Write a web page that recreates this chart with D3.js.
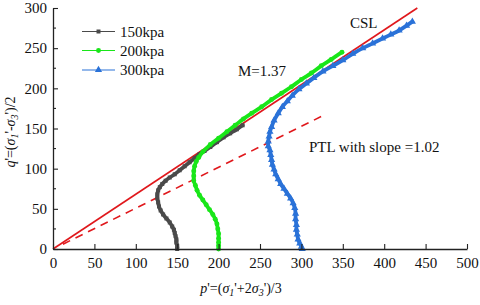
<!DOCTYPE html>
<html><head><meta charset="utf-8">
<script src="https://cdn.jsdelivr.net/npm/d3@7"></script>
<style>
html,body{margin:0;padding:0;background:#fff;}
svg{display:block;font-family:"Liberation Serif","Times New Roman",serif;}
</style></head>
<body>
<svg id="chart" width="480" height="305"></svg>
<script>
// ---- data ----
const xTicks = [0,50,100,150,200,250,300,350,400,450,500];
const yTicks = [0,50,100,150,200,250,300];
const seriesNames = ["150kpa","200kpa","300kpa"];

const p150 = [150,150,149,149,148,147,146,144,141,137,133,130,128,127,126,126,127,129,132,136,141,147,153,159,165,171,177,183,190,198,206,214,222,229];
const q150 = [0,4,8,12,16,20,24,28,33,38,43,48,53,58,63,68,73,77,81,85,89,93,98,103,108,113,118,122,127,133,139,144,149,154];

const p200 = [200,200,200,200,200,199,198,196,193,189,185,181,177,174,172,170,170,170,171,173,176,181,190,200,210,220,230,240,252,264,276,288,300,312,324,336,349];
const q200 = [0,4,8,13,19,25,31,37,43,49,55,61,67,73,79,85,91,97,103,109,114,121,130,138,146,154,162,169,177,186,194,202,211,219,228,236,245];

const p300 = [301,300,298,296,295,294,294,293,293,292,290,287,283,279,275,272,269,267,265,264,263,262,260,260,261,262,264,267,272,277,283,289,297,306,315,326,338,350,362,374,386,398,408,418,427,434];
const q300 = [0,3,7,12,18,24,30,37,44,51,57,63,69,75,81,87,93,99,105,111,117,123,128,134,140,146,152,160,169,177,184,191,199,206,213,221,228,235,243,250,256,262,267,272,278,283];

const cslP = [0,440];
const cslQ = [0,300];
const ptlP = [12,328];
const ptlQ = [6,167];

// ---- layout ----
const svg = d3.select("#chart");
const L=53, R=467, T=8, B=249;
const x = d3.scaleLinear().domain([0,500]).range([L,R]);
const y = d3.scaleLinear().domain([0,300]).range([B,T]);
const colors = ["#4a4a4a","#19e619","#2a72d8"];
const red = "#e0181c";
const axisColor = "#222";

const series = [
  {name:seriesNames[0], p:p150, q:q150, color:colors[0], shape:d3.symbolSquare, size:10},
  {name:seriesNames[1], p:p200, q:q200, color:colors[1], shape:d3.symbolCircle, size:12},
  {name:seriesNames[2], p:p300, q:q300, color:colors[2], shape:d3.symbolTriangle, size:14}
];

const straight = d3.line().x(d=>x(d[0])).y(d=>y(d[1]));

// CSL
svg.append("path").attr("d", straight(d3.zip(cslP,cslQ)))
  .attr("fill","none").attr("stroke",red).attr("stroke-width",1.6);
// PTL
svg.append("path").attr("d", straight(d3.zip(ptlP,ptlQ)))
  .attr("fill","none").attr("stroke",red).attr("stroke-width",1.6).attr("stroke-dasharray","8,6");

// series
series.forEach(s=>{
  const pts = d3.zip(s.p,s.q);
  svg.append("path").attr("d", d3.line().x(d=>x(d[0])).y(d=>y(d[1])).curve(d3.curveCatmullRom)(pts))
    .attr("fill","none").attr("stroke",s.color).attr("stroke-width",3.8).attr("stroke-linejoin","round").attr("stroke-linecap","round");
  svg.append("g").selectAll("path").data(pts).join("path")
    .attr("transform",d=>`translate(${x(d[0])},${y(d[1])})`)
    .attr("d", d3.symbol().type(s.shape).size(s.size*1.6))
    .attr("fill",s.color);
});

// axes
const xAxis = d3.axisBottom(x).tickValues(xTicks).tickSizeInner(-5).tickSizeOuter(0).tickPadding(8);
const gx = svg.append("g").attr("transform",`translate(0,${B})`).call(xAxis);
const yMinor = d3.range(25,300,50);
const yAxis = d3.axisLeft(y).tickValues(yTicks).tickSizeInner(-5).tickSizeOuter(0).tickPadding(6);
const gy = svg.append("g").attr("transform",`translate(${L},0)`).call(yAxis);
svg.append("g").selectAll("line").data(yMinor).join("line")
  .attr("x1",L).attr("x2",L+3).attr("y1",d=>y(d)).attr("y2",d=>y(d))
  .attr("stroke",axisColor).attr("stroke-width",1.1);
[gx,gy].forEach(g=>{
  g.select(".domain").attr("stroke",axisColor).attr("stroke-width",1.3);
  g.selectAll(".tick line").attr("stroke",axisColor).attr("stroke-width",1.1);
  g.selectAll(".tick text").attr("font-family","Liberation Serif, serif").attr("font-size",15).attr("fill","#111");
});

// axis titles
const xt = svg.append("text").attr("x",241).attr("y",293).attr("text-anchor","middle")
  .attr("font-size",14).attr("fill","#111");
xt.append("tspan").attr("font-style","italic").text("p");
xt.append("tspan").text("'=(");
xt.append("tspan").attr("font-style","italic").text("σ");
xt.append("tspan").attr("font-style","italic").attr("font-size",10).attr("dy",3).text("1");
xt.append("tspan").attr("dy",-3).text("'+2");
xt.append("tspan").attr("font-style","italic").text("σ");
xt.append("tspan").attr("font-style","italic").attr("font-size",10).attr("dy",3).text("3");
xt.append("tspan").attr("dy",-3).text("')/3");

const yt = svg.append("text").attr("transform","translate(15,132) rotate(-90)").attr("text-anchor","middle")
  .attr("font-size",14).attr("fill","#111");
yt.append("tspan").attr("font-style","italic").text("q");
yt.append("tspan").text("'=(");
yt.append("tspan").attr("font-style","italic").text("σ");
yt.append("tspan").attr("font-style","italic").attr("font-size",10).attr("dy",3).text("1");
yt.append("tspan").attr("dy",-3).text("'-");
yt.append("tspan").attr("font-style","italic").text("σ");
yt.append("tspan").attr("font-style","italic").attr("font-size",10).attr("dy",3).text("3");
yt.append("tspan").attr("dy",-3).text("')/2");

// annotations
svg.append("text").attr("x",350).attr("y",28).attr("font-size",15).attr("fill","#111").text("CSL");
svg.append("text").attr("x",238).attr("y",76).attr("font-size",15).attr("fill","#111").text("M=1.37");
svg.append("text").attr("x",309).attr("y",152).attr("font-size",15).attr("fill","#111").text("PTL with slope =1.02");

// legend
const legY = [31.5,50.5,70];
series.forEach((s,i)=>{
  const g = svg.append("g");
  g.append("line").attr("x1",82).attr("x2",115).attr("y1",legY[i]).attr("y2",legY[i])
    .attr("stroke",s.color).attr("stroke-width",1.2);
  g.append("path").attr("transform",`translate(98.5,${legY[i]})`)
    .attr("d", d3.symbol().type(s.shape).size(s.size*1.6)).attr("fill",s.color);
  g.append("text").attr("x",120).attr("y",legY[i]+5).attr("font-size",15).attr("fill","#111").text(s.name);
});
</script>
</body></html>
